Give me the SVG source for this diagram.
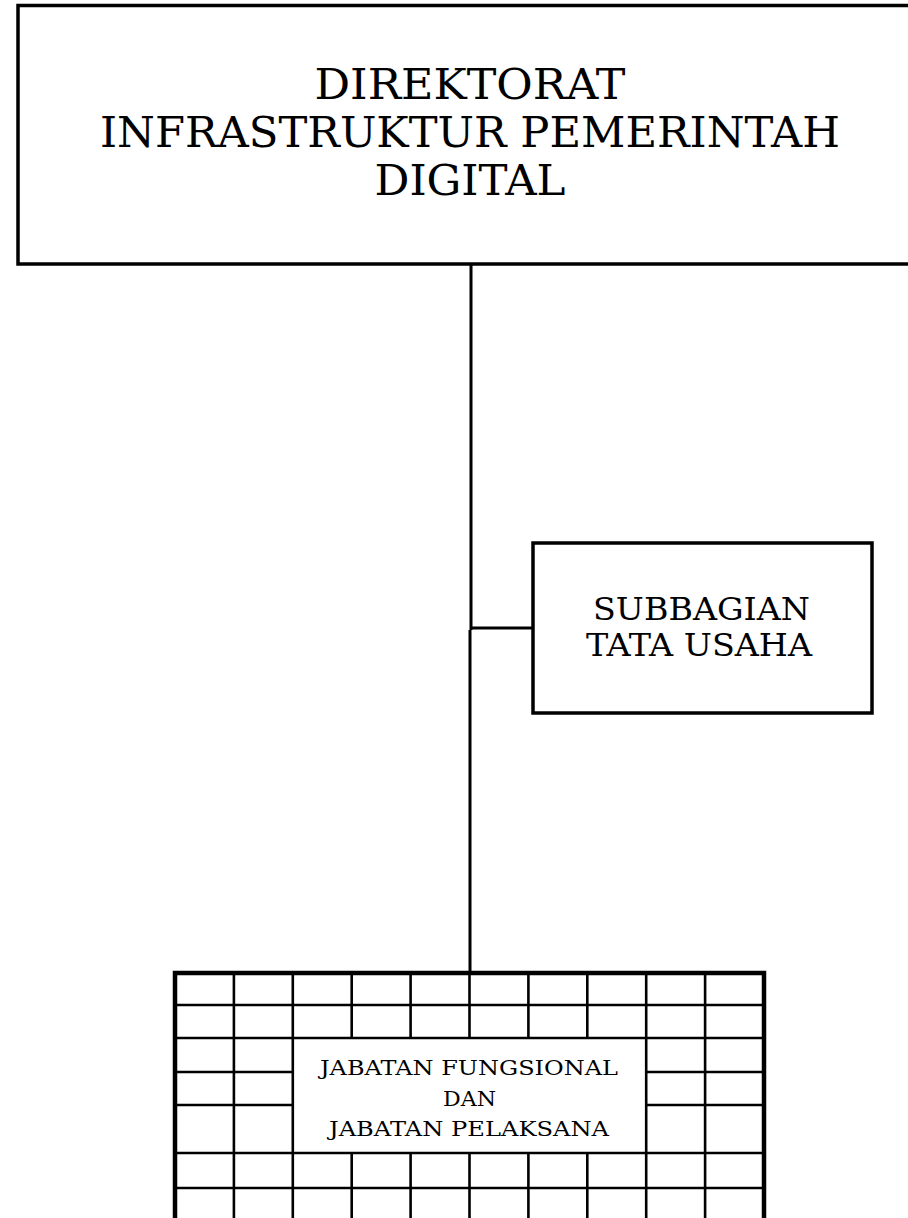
<svg xmlns="http://www.w3.org/2000/svg" width="908" height="1218" viewBox="0 0 908 1218">
<style>
.box{fill:#fff;stroke:#000;stroke-width:3.5}
.conn{fill:none;stroke:#000;stroke-width:3}
.grid{fill:none;stroke:#000;stroke-width:2.6}
.outer{fill:none;stroke:#000;stroke-width:4.5}
text{font-family:"DejaVu Serif","Liberation Serif",serif;fill:#000;text-anchor:middle}
</style>
<rect width="908" height="1218" fill="#fff"/>
<g id="connectors">
<path class="conn" d="M471,264 V630 M470,630 V973 M470,628 H533"/>
</g>
<g id="direktorat">
<rect class="box" x="18" y="5.5" width="900" height="258.5"/>
<text x="470" y="99" font-size="42" textLength="311" lengthAdjust="spacingAndGlyphs">DIREKTORAT</text>
<text x="470" y="147" font-size="42" textLength="740" lengthAdjust="spacingAndGlyphs">INFRASTRUKTUR PEMERINTAH</text>
<text x="470" y="195" font-size="42" textLength="191" lengthAdjust="spacingAndGlyphs">DIGITAL</text>
</g>
<g id="subbagian">
<rect class="box" x="533" y="543" width="339" height="170"/>
<text x="701.5" y="620" font-size="31.5" textLength="217" lengthAdjust="spacingAndGlyphs">SUBBAGIAN</text>
<text x="699" y="656" font-size="31.5" textLength="226" lengthAdjust="spacingAndGlyphs">TATA USAHA</text>
</g>
<g id="jabatan">
<rect x="175" y="973" width="589" height="260" fill="#fff"/>
<path class="grid" d="
M175,1005 H764 M175,1038 H764 M175,1153 H764 M175,1188 H764
M175,1072 H292 M646,1072 H764 M175,1105 H292 M646,1105 H764
M233.9,973 V1218 M292.8,973 V1218 M351.7,973 V1038 M351.7,1153 V1218
M410.6,973 V1038 M410.6,1153 V1218 M469.5,973 V1038 M469.5,1153 V1218
M528.4,973 V1038 M528.4,1153 V1218 M587.3,973 V1038 M587.3,1153 V1218
M646.2,973 V1218 M705.1,973 V1218"/>
<path class="outer" d="M175,1222 V973 H764 V1222"/>
<text x="469" y="1075" font-size="20.5" textLength="298" lengthAdjust="spacingAndGlyphs">JABATAN FUNGSIONAL</text>
<text x="469.5" y="1106" font-size="20.5" textLength="53" lengthAdjust="spacingAndGlyphs">DAN</text>
<text x="469" y="1136" font-size="20.5" textLength="280" lengthAdjust="spacingAndGlyphs">JABATAN PELAKSANA</text>
</g>
</svg>
